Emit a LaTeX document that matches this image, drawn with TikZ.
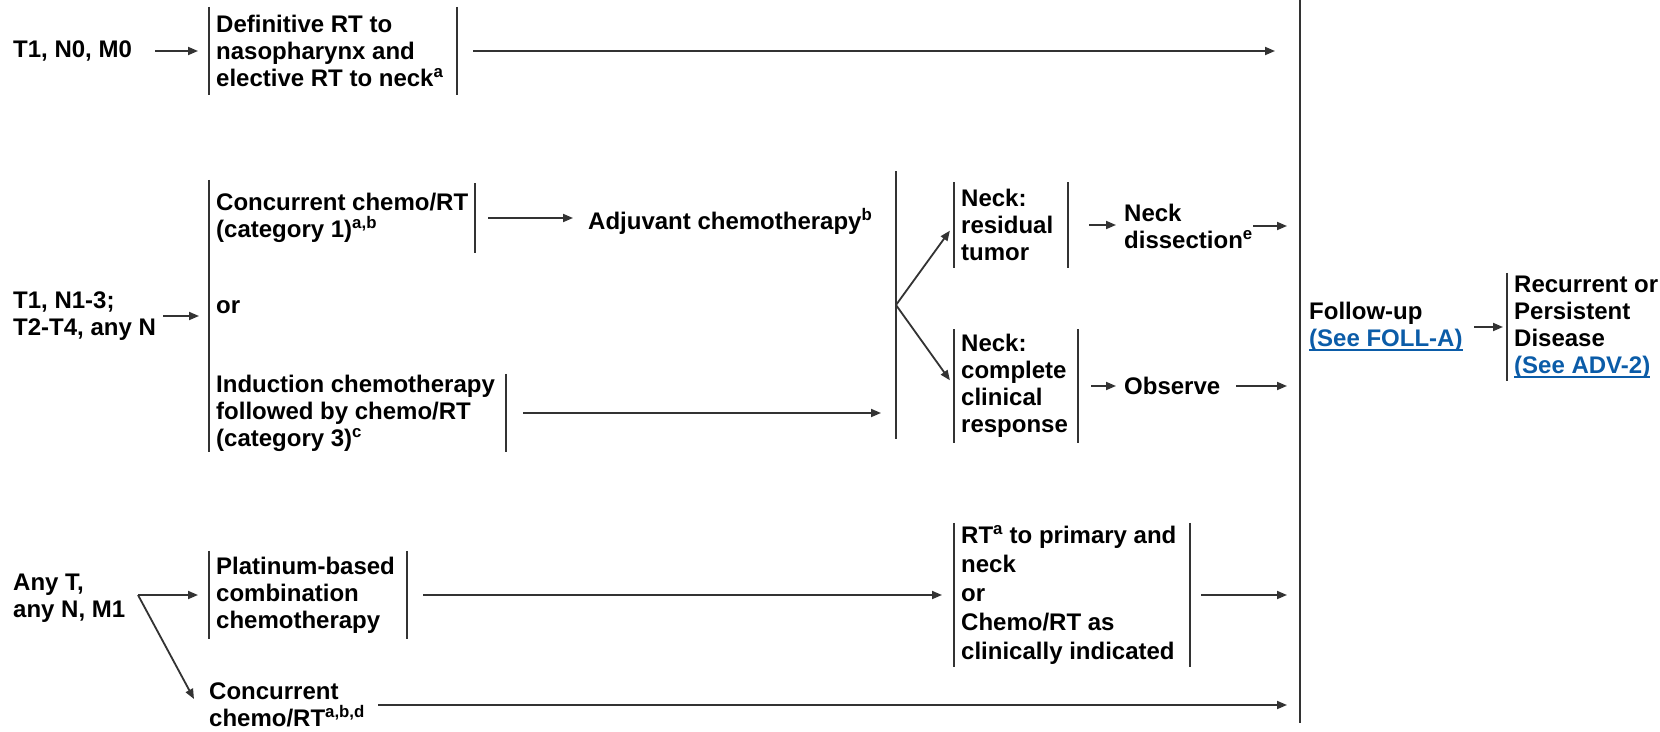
\documentclass[tikz,border=0pt]{standalone}
\usepackage{fontspec}
\setmainfont{Liberation Sans}
\usetikzlibrary{arrows.meta}
\definecolor{linec}{HTML}{333333}
\definecolor{linkc}{HTML}{0B5CA8}
\newcommand\lnk[1]{{\color{linkc}\sbox0{#1}\rlap{\raisebox{-4.5pt}{\rule{\wd0}{2pt}}}\usebox0}}
\begin{document}
\begin{tikzpicture}[x=1pt,y=-1pt,
  every node/.style={font=\bfseries\fontsize{24}{27}\selectfont, text=black},
  bar/.style={draw=linec, line width=1.8pt},
  arr/.style={draw=linec, line width=1.8pt, -{Triangle[length=10pt,width=8pt]}},
  txt/.style={inner sep=0pt, anchor=west, align=left},
  bracket/.style 2 args={inner xsep=7pt, inner ysep=0pt, anchor=west, align=left, minimum height=#1,
    append after command={(\tikzlastnode.north west) edge[bar] (\tikzlastnode.south west)
      ([xshift=#2]\tikzlastnode.north west) edge[bar] ([xshift=#2]\tikzlastnode.south west)}},
  lbracket/.style={inner xsep=7pt, inner ysep=0pt, anchor=west, align=left, minimum height=#1,
    append after command={(\tikzlastnode.north west) edge[bar] (\tikzlastnode.south west)}},
  grp/.style={inner sep=0pt, minimum width=0pt, minimum height=#1, anchor=west,
    append after command={(\tikzlastnode.north west) edge[bar] (\tikzlastnode.south west)}}
]
\fill[white] (0,0) rectangle (1660,731);
\useasboundingbox (0,0) rectangle (1660,731);
\coordinate (in1) at (1275,0);
\coordinate (in) at (1287,0);

% row 1
\node[txt] (n1) at (13,51) {T1, N0, M0};
\node[bracket={88}{248}] (b1) at (209,51) {Definitive RT to\\nasopharynx and\\elective RT to neck\textsuperscript{a}};
\draw[arr, shorten >=11pt] ([xshift=142pt]n1.west) -- (b1.west);
\draw[arr] ([xshift=264pt]b1.west) -- (b1.west -| in1);

% row 2
\node[grp=272] (g2) at (209,316) {};
\node[txt] (n2) at (13,316) {T1, N1-3;\\T2-T4, any N};
\draw[arr, shorten >=10pt] ([xshift=150pt]n2.west) -- (g2.west);
\node[bracket={69}{266}] (cc) at (209,218) {Concurrent chemo/RT\\(category 1)\textsuperscript{a,b}};
\node[txt] (or) at (216,307) {or};
\node[bracket={78}{297}] (ind) at (209,413) {Induction chemotherapy\\followed by chemo/RT\\(category 3)\textsuperscript{c}};
\node[txt] (adj) at (588,221) {Adjuvant chemotherapy\textsuperscript{b}};
\draw[arr, shorten >=15pt] ([xshift=279pt]cc.west) -- (cc.west -| adj.west);
\node[grp=267] (g3) at (896,305) {};
\draw[arr, shorten >=15pt] ([xshift=314pt]ind.west) -- (ind.west -| g3.west);
\node[bracket={85}{114}] (nr) at (954,225) {Neck:\\residual\\tumor};
\node[bracket={113}{124}] (ncr) at (954,386) {Neck:\\complete\\clinical\\response};
\draw[arr, shorten >=7pt] (g3.west) -- (nr.west);
\draw[arr, shorten >=7pt] (g3.west) -- (ncr.west);
\node[txt] (nd) at (1124,226) {Neck\\dissection\textsuperscript{e}};
\draw[arr, shorten >=8pt] ([xshift=135pt]nr.west) -- (nr.west -| nd.west);
\draw[arr] ([xshift=129pt]nd.west) -- (nd.west -| in);
\node[txt] (obs) at (1124,386) {Observe};
\draw[arr, shorten >=8pt] ([xshift=137pt]ncr.west) -- (ncr.west -| obs.west);
\draw[arr] ([xshift=112pt]obs.west) -- (obs.west -| in);

% follow-up
\node[grp=723] (g4) at (1300,361.5) {};
\node[txt] (fu) at (1309,327) {Follow-up\\\lnk{(See FOLL-A)}};
\node[lbracket=108] (rec) at (1507,327) {Recurrent or\\Persistent\\Disease\\\lnk{(See ADV-2)}};
\draw[arr, shorten >=4pt] ([xshift=165pt]fu.west) -- (rec.west);

% row 3
\node[txt] (n3) at (13,598) {Any T,\\any N, M1};
\coordinate (f3) at (138,595);
\node[bracket={88}{198}] (plat) at (209,595) {Platinum-based\\combination\\chemotherapy};
\draw[arr, shorten >=11pt] (f3) -- (plat.west);
\node[txt] (ccm) at (209,705) {Concurrent\\chemo/RT\textsuperscript{a,b,d}};
\draw[arr] (f3) -- ([xshift=-15pt,yshift=6pt]ccm.west);
\node[bracket={144}{236}, font=\bfseries\fontsize{24}{29}\selectfont] (rt) at (954,595) {RT\textsuperscript{a} to primary and\\neck\\or\\Chemo/RT as\\clinically indicated};
\draw[arr, shorten >=12pt] ([xshift=214pt]plat.west) -- (rt.west);
\draw[arr] ([xshift=247pt]rt.west) -- (rt.west -| in);
\draw[arr] ([xshift=169pt]ccm.west) -- (ccm.west -| in);
\end{tikzpicture}
\end{document}
